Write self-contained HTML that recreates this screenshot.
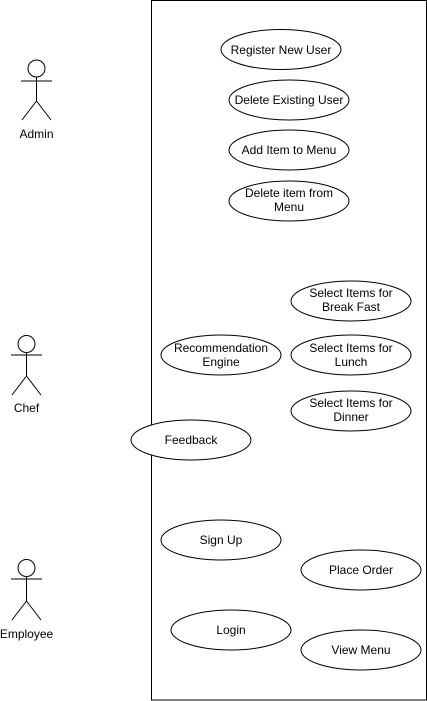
<!DOCTYPE html>
<html><head><meta charset="utf-8"><style>
html,body{margin:0;padding:0;background:#fff;}
svg{display:block;}
text{font-family:"Liberation Sans",Arial,sans-serif;font-size:12px;fill:#000;}
</style></head><body>
<svg width="427" height="701" viewBox="0 0 427 701" xmlns="http://www.w3.org/2000/svg">
<rect x="151.5" y="0.5" width="275" height="699.5" fill="#fff" stroke="#000"/>
<g fill="#fff" stroke="#000">
<ellipse cx="281" cy="49.5" rx="60" ry="20"/>
<ellipse cx="289" cy="100" rx="60" ry="20"/>
<ellipse cx="289" cy="150" rx="60" ry="20"/>
<ellipse cx="289" cy="201" rx="60" ry="20"/>
<ellipse cx="351" cy="301" rx="60" ry="20"/>
<ellipse cx="221" cy="355" rx="60" ry="20"/>
<ellipse cx="351" cy="355" rx="60" ry="20"/>
<ellipse cx="351" cy="411" rx="60" ry="20"/>
<ellipse cx="191" cy="440" rx="60" ry="20"/>
<ellipse cx="221" cy="540" rx="60" ry="20"/>
<ellipse cx="361" cy="570" rx="60" ry="20"/>
<ellipse cx="231" cy="630" rx="60" ry="20"/>
<ellipse cx="361" cy="650" rx="60" ry="20"/>
</g>
<g text-anchor="middle">
<text x="281" y="54">Register New User</text>
<text x="289" y="104">Delete Existing User</text>
<text x="289" y="154">Add Item to Menu</text>
<text x="289" y="197">Delete item from</text><text x="289" y="211">Menu</text>
<text x="351" y="297">Select Items for</text><text x="351" y="311">Break Fast</text>
<text x="221" y="352">Recommendation</text><text x="221" y="366">Engine</text>
<text x="351" y="352">Select Items for</text><text x="351" y="366">Lunch</text>
<text x="351" y="407">Select Items for</text><text x="351" y="421">Dinner</text>
<text x="191" y="444">Feedback</text>
<text x="221" y="544">Sign Up</text>
<text x="361" y="574">Place Order</text>
<text x="231" y="634">Login</text>
<text x="361" y="654">View Menu</text>
</g>
<g fill="#fff" stroke="#000">
<circle cx="36.5" cy="68.5" r="8.5"/>
<path d="M36.5 77V101M21 81H52M36.5 101L22 120M36.5 101L51 120" fill="none"/>
<circle cx="26.5" cy="344" r="8.5"/>
<path d="M26.5 352.5V376M11 355H42M26.5 376L12 395M26.5 376L41 395" fill="none"/>
<circle cx="26.5" cy="568" r="8.5"/>
<path d="M26.5 576.5V601M11 579H42M26.5 601L12 620M26.5 601L41 620" fill="none"/>
</g>
<g text-anchor="middle">
<text x="36.5" y="138">Admin</text>
<text x="26.5" y="412">Chef</text>
<text x="26.5" y="638">Employee</text>
</g>
</svg>
</body></html>
